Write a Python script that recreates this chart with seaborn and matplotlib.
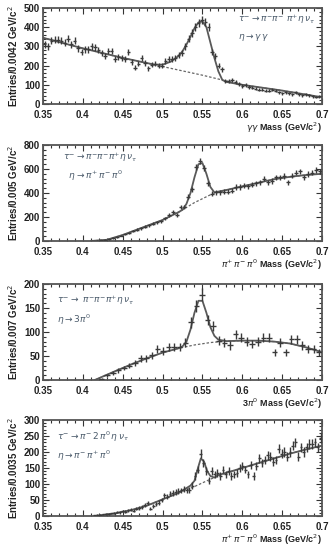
"""
Eta mass spectra in tau -> 3pi eta nu decays, four channels
"""
import numpy as np
import matplotlib
matplotlib.use("Agg")
import matplotlib.pyplot as plt
from matplotlib.ticker import MultipleLocator
import seaborn as sns

# ---- panel 1: eta -> gamma gamma (bin 0.0042) ----
p1_first, p1_width = 0.3521, 0.0042
p1_counts = [310, 300, 330, 335, 335, 330, 320, 340, 310, 330, 290, 270, 285, 285,
             300, 295, 280, 265, 250, 275, 275, 235, 245, 240, 235, 270, 220, 190,
             210, 240, 215, 185, 205, 210, 200, 200, 225, 235, 235, 240, 255, 265,
             300, 340, 370, 400, 420, 435, 425, 400, 270, 250, 200, 180, 120, 120,
             125, 115, 105, 95, 100, 90, 85, 80, 75, 75, 70, 70, 75, 70, 60, 55,
             60, 55, 50, 60, 50, 45, 50, 45, 40, 35, 40]
p1_bg_x = [0.35, 0.40, 0.45, 0.50, 0.55, 0.575, 0.60, 0.65, 0.70]
p1_bg_y = [345, 290, 240, 195, 150, 125, 100, 70, 35]
p1_fit_x = [0.35, 0.40, 0.45, 0.49, 0.50, 0.51, 0.52, 0.525, 0.53, 0.535, 0.54, 0.545,
            0.55, 0.555, 0.56, 0.565, 0.57, 0.575, 0.58, 0.60, 0.65, 0.70]
p1_fit_y = [345, 290, 240, 205, 205, 220, 250, 275, 310, 350, 395, 425,
            430, 400, 320, 240, 170, 125, 115, 100, 70, 35]

# ---- panel 2: eta -> pi+ pi- pi0 (bin 0.005) ----
p2_first, p2_width = 0.4125, 0.005
p2_counts = [2, 3, 5, 10, 15, 25, 35, 45, 55, 70, 80, 95, 105, 120, 130, 145, 155, 165,
             190, 215, 240, 215, 285, 285, 370, 430, 620, 665, 610, 480, 395, 405, 405,
             410, 410, 420, 450, 450, 460, 455, 470, 480, 490, 520, 490, 500, 530, 530,
             540, 490, 545, 570, 580, 530, 560, 570, 590, 580]
p2_bg_x = [0.41, 0.43, 0.45, 0.47, 0.49, 0.50, 0.52, 0.54, 0.56, 0.58, 0.60, 0.62,
           0.64, 0.66, 0.68, 0.70]
p2_bg_y = [0, 10, 50, 100, 150, 175, 240, 320, 385, 425, 455, 485, 515, 535, 550, 560]
p2_fit_x = [0.41, 0.43, 0.45, 0.47, 0.49, 0.50, 0.52, 0.525, 0.53, 0.535, 0.54, 0.545,
            0.55, 0.555, 0.56, 0.565, 0.58, 0.60, 0.62, 0.64, 0.66, 0.68, 0.70]
p2_fit_y = [0, 10, 50, 100, 150, 175, 240, 260, 310, 400, 530, 640,
            650, 560, 450, 405, 425, 455, 485, 515, 535, 550, 560]

# ---- panel 3: eta -> 3pi0 (bin 0.007) ----
p3_first, p3_width = 0.4235, 0.007
p3_counts = [3, 10, 15, 20, 25, 30, 35, 45, 45, 52, 65, 60, 68, 68, 68, 78, 120, 155,
             178, 125, 112, 82, 78, 72, 95, 88, 80, 75, 80, 88, 88, 58, 78, 58, 85, 85,
             72, 65, 65, 58]
p3_bg_x = [0.415, 0.44, 0.46, 0.48, 0.50, 0.52, 0.54, 0.56, 0.58, 0.60, 0.62, 0.64,
           0.66, 0.68, 0.70]
p3_bg_y = [0, 18, 32, 45, 57, 66, 73, 78, 81, 82, 82, 80, 76, 68, 58]
p3_fit_x = [0.415, 0.44, 0.46, 0.48, 0.50, 0.52, 0.525, 0.53, 0.535, 0.54, 0.545, 0.55,
            0.555, 0.56, 0.565, 0.57, 0.58, 0.60, 0.62, 0.64, 0.66, 0.68, 0.70]
p3_fit_y = [0, 18, 32, 45, 57, 66, 70, 80, 105, 140, 165, 165,
            140, 110, 92, 84, 81, 82, 82, 80, 76, 68, 58]

# ---- panel 4: tau -> pi- 2pi0 eta nu, eta -> pi- pi+ pi0 (bin 0.0035) ----
p4_first, p4_width = 0.41475, 0.0035
p4_counts = [2, 3, 4, 5, 6, 7, 8, 10, 12, 11, 15, 14, 18, 20, 17, 22, 25, 28, 35, 40,
             22, 32, 38, 42, 50, 65, 60, 70, 72, 75, 78, 80, 85, 80, 82, 95, 125, 145,
             195, 165, 140, 110, 140, 130, 135, 125, 145, 130, 140, 125, 130, 135, 150,
             155, 145, 130, 160, 125, 155, 180, 165, 175, 190, 185, 170, 175, 210, 195,
             200, 185, 200, 220, 230, 185, 215, 200, 215, 225, 225, 230, 215, 245]
p4_bg_x = [0.415, 0.44, 0.46, 0.48, 0.50, 0.52, 0.54, 0.56, 0.58, 0.60, 0.62, 0.64,
           0.66, 0.68, 0.70]
p4_bg_y = [0, 8, 18, 32, 52, 72, 92, 115, 135, 150, 165, 180, 195, 208, 220]
p4_fit_x = [0.415, 0.44, 0.46, 0.48, 0.50, 0.52, 0.535, 0.54, 0.545, 0.548, 0.552,
            0.556, 0.56, 0.565, 0.57, 0.58, 0.60, 0.62, 0.64, 0.66, 0.68, 0.70]
p4_fit_y = [0, 8, 18, 32, 52, 72, 95, 110, 155, 180, 170,
            140, 125, 120, 128, 135, 150, 165, 180, 195, 208, 220]

panels = [
    dict(first=p1_first, width=p1_width, counts=p1_counts, bg=(p1_bg_x, p1_bg_y),
         fit=(p1_fit_x, p1_fit_y), ymax=500, ystep=100, yminor=20,
         ylabel="Entries/0.0042 GeV/c$^2$", xlabel=r"$\gamma\gamma$ Mass (GeV/c$^2$)",
         lines=[r"$\tau^{-}\rightarrow\pi^{-}\pi^{-}\ \pi^{+}\eta\,\nu_{\tau}$",
                r"$\eta\rightarrow\gamma\,\gamma$"],
         text_xy=(0.70, 0.95)),
    dict(first=p2_first, width=p2_width, counts=p2_counts, bg=(p2_bg_x, p2_bg_y),
         fit=(p2_fit_x, p2_fit_y), ymax=800, ystep=200, yminor=40,
         ylabel="Entries/0.005 GeV/c$^2$", xlabel=r"$\pi^{+}\,\pi^{-}\,\pi^{0}$ Mass (GeV/c$^2$)",
         lines=[r"$\tau^{-}\rightarrow\pi^{-}\pi^{-}\pi^{+}\eta\,\nu_{\tau}$",
                r"$\ \ \eta\rightarrow\pi^{+}\,\pi^{-}\,\pi^{0}$"],
         text_xy=(0.07, 0.95)),
    dict(first=p3_first, width=p3_width, counts=p3_counts, bg=(p3_bg_x, p3_bg_y),
         fit=(p3_fit_x, p3_fit_y), ymax=200, ystep=50, yminor=10,
         ylabel="Entries/0.007 GeV/c$^2$", xlabel=r"3$\pi^{0}$ Mass (GeV/c$^2$)",
         lines=[r"$\tau^{-}\rightarrow\ \pi^{-}\pi^{-}\pi^{+}\eta\,\nu_{\tau}$",
                r"$\eta\rightarrow3\pi^{0}$"],
         text_xy=(0.05, 0.90)),
    dict(first=p4_first, width=p4_width, counts=p4_counts, bg=(p4_bg_x, p4_bg_y),
         fit=(p4_fit_x, p4_fit_y), ymax=300, ystep=50, yminor=10,
         ylabel="Entries/0.0035 GeV/c$^2$", xlabel=r"$\pi^{+}\,\pi^{-}\,\pi^{0}$ Mass (GeV/c$^2$)",
         lines=[r"$\tau^{-}\rightarrow\pi^{-}\,2\,\pi^{0}\,\eta\,\nu_{\tau}$",
                r"$\eta\rightarrow\pi^{-}\,\pi^{+}\,\pi^{0}$"],
         text_xy=(0.05, 0.90)),
]

sns.set_theme(style="ticks")
plt.rcParams["font.family"] = ["Liberation Sans", "DejaVu Sans"]
plt.rcParams["mathtext.fontset"] = "dejavusans"
plt.rcParams["xtick.direction"] = "in"
plt.rcParams["ytick.direction"] = "in"

fig = plt.figure(figsize=(3.32, 5.47), dpi=100)
tops = [8, 145, 284, 420]
for p, top in zip(panels, tops):
    ax = fig.add_axes([43 / 332, 1 - (top + 96) / 547, 279 / 332, 96 / 547])
    counts = np.array(p["counts"], dtype=float)
    xs = p["first"] + p["width"] * np.arange(len(counts))
    ax.errorbar(xs, counts, xerr=p["width"] / 2, yerr=np.sqrt(counts),
                fmt="none", ecolor="#3a3a3a", elinewidth=1.0, capsize=0, zorder=3)
    sns.lineplot(x=p["bg"][0], y=p["bg"][1], ax=ax, color="#666666", lw=0.9,
                 linestyle=(0, (2, 1.5)), zorder=2)
    sns.lineplot(x=p["fit"][0], y=p["fit"][1], ax=ax, color="#5a5a5a", lw=1.3, zorder=2)

    ax.set_xlim(0.35, 0.70)
    ax.set_ylim(0, p["ymax"])
    ax.xaxis.set_major_locator(MultipleLocator(0.05))
    ax.xaxis.set_minor_locator(MultipleLocator(0.01))
    ax.yaxis.set_major_locator(MultipleLocator(p["ystep"]))
    ax.yaxis.set_minor_locator(MultipleLocator(p["yminor"]))
    ax.xaxis.set_major_formatter(matplotlib.ticker.FuncFormatter(lambda v, _: f"{v:g}"))
    ax.tick_params(which="both", top=True, right=True, color="#333333", width=0.8)
    ax.tick_params(which="major", length=4, labelsize=7, labelcolor="#222222")
    ax.tick_params(axis="x", which="major", pad=4)
    ax.tick_params(axis="y", which="major", pad=2)
    ax.tick_params(which="minor", length=2)
    for lbl in ax.get_xticklabels() + ax.get_yticklabels():
        lbl.set_fontweight("bold")
    for s in ax.spines.values():
        s.set_linewidth(1.3)
        s.set_color("#555555")

    ax.set_ylabel(p["ylabel"], fontsize=7, fontweight="bold", color="#222222", labelpad=3)
    ax.set_xlabel(p["xlabel"], fontsize=6.5, fontweight="bold", color="#222222",
                  loc="right", labelpad=1)
    tx, ty = p["text_xy"]
    ax.text(tx, ty, p["lines"][0], transform=ax.transAxes, fontsize=6.5,
            color="#4a5a6a", ha="left", va="top")
    ax.text(tx, ty - 0.2, p["lines"][1], transform=ax.transAxes, fontsize=6.5,
            color="#4a5a6a", ha="left", va="top")

fig.savefig("out.png", dpi=100)
plt.close(fig)
